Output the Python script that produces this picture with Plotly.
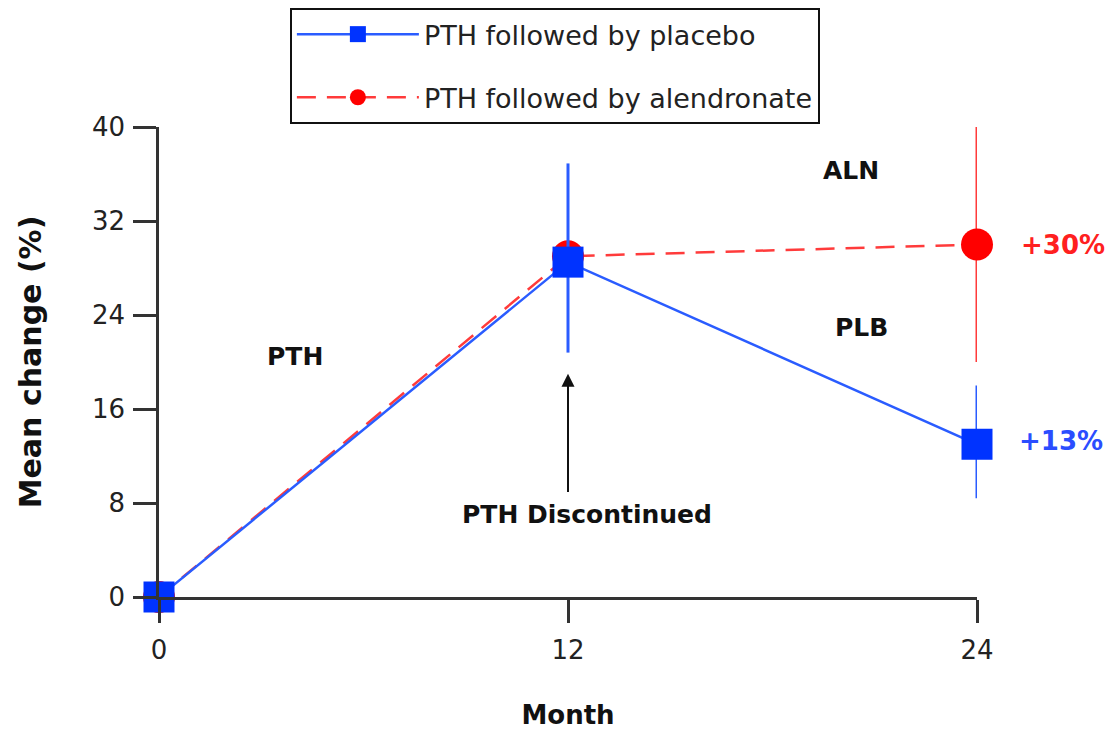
import plotly.graph_objects as go

# Months of follow-up
months = [0, 12, 24]

# PTH followed by placebo: mean % change and error bar extents
placebo_mean = [0, 28.5, 13]
placebo_err_plus = [0, 8.4, 5.0]
placebo_err_minus = [0, 7.7, 4.6]

# PTH followed by alendronate: mean % change and error bar extents
aln_mean = [0, 29.0, 30]
aln_err_plus = [0, 0, 10]
aln_err_minus = [0, 0, 10]

y_ticks = [0, 8, 16, 24, 32, 40]
x_ticks = [0, 12, 24]

FONT = "DejaVu Sans"
BLUE = "#0033ff"
BLUE_LINE = "#2a5cff"
RED = "#ff0000"
RED_LINE = "#ff3b3b"

fig = go.Figure()

fig.add_trace(go.Scatter(
    x=months, y=aln_mean, name="PTH followed by alendronate",
    mode="lines+markers", legendgroup="aln", legendrank=2,
    line=dict(color=RED_LINE, width=2.5, dash="19px,11px"),
    marker=dict(symbol="circle", size=32, color=RED),
    error_y=dict(type="data", symmetric=False, array=aln_err_plus,
                 arrayminus=aln_err_minus, color=RED_LINE,
                 thickness=3, width=0),
    cliponaxis=False,
))

# Placebo drawn on top of the alendronate curve
fig.add_trace(go.Scatter(
    x=months, y=placebo_mean, name="PTH followed by placebo",
    mode="lines+markers", legendgroup="plb", legendrank=1,
    line=dict(color=BLUE_LINE, width=2.5),
    marker=dict(symbol="square", size=31, color=BLUE),
    error_y=dict(type="data", symmetric=False, array=placebo_err_plus,
                 arrayminus=placebo_err_minus, color=BLUE_LINE,
                 thickness=3, width=0),
    cliponaxis=False,
))

bold = dict(family=FONT, size=25, color="#111111", weight="bold")

annotations = [
    dict(x=4.0, y=20.5, text="PTH", showarrow=False, font=bold),
    dict(x=20.3, y=36.3, text="ALN", showarrow=False, font=bold),
    dict(x=20.6, y=22.9, text="PLB", showarrow=False, font=bold),
    dict(x=12.55, y=7.05, text="PTH Discontinued", showarrow=False, font=bold),
    # arrow marking the end of PTH treatment
    dict(x=12, y=19.0, ax=12, ay=8.8, axref="x", ayref="y", text="",
         showarrow=True, arrowhead=2, arrowsize=1.3, arrowwidth=2,
         arrowcolor="#111111"),
    dict(x=24, y=aln_mean[2], text="+30%", showarrow=False, xanchor="left",
         xshift=42, font=dict(family=FONT, size=26, color="#ff2020", weight="bold")),
    dict(x=24, y=placebo_mean[2], text="+13%", showarrow=False, xanchor="left",
         xshift=40, yshift=3,
         font=dict(family=FONT, size=26, color="#2b4dff", weight="bold")),
]

fig.update_layout(
    width=1113, height=730,
    margin=dict(l=159, r=136, t=127, b=133, autoexpand=False),
    paper_bgcolor="white", plot_bgcolor="white",
    font=dict(family=FONT, size=26, color="#222222"),
    showlegend=True,
    legend=dict(
        x=0.16, y=1.253, xanchor="left", yanchor="top",
        bgcolor="white", bordercolor="#111111", borderwidth=2,
        font=dict(family=FONT, size=27, color="#222222"),
        traceorder="grouped", tracegroupgap=25, itemwidth=122,
    ),
    annotations=annotations,
    xaxis=dict(
        range=[0, 24], tickvals=x_ticks, ticktext=[str(v) for v in x_ticks],
        automargin=False,
        showgrid=False, zeroline=False, showline=True, linecolor="#333333",
        linewidth=2.5, ticks="outside", ticklen=23, tickwidth=2.5,
        tickcolor="#333333", tickfont=dict(size=26), ticklabelstandoff=5,
        title=dict(text="Month", font=dict(size=26, weight="bold", color="#111111"),
                   standoff=43),
    ),
    yaxis=dict(
        range=[0, 40], tickvals=y_ticks, ticktext=[str(v) for v in y_ticks],
        automargin=False,
        showgrid=False, zeroline=False, showline=True, linecolor="#333333",
        linewidth=2.5, ticks="outside", ticklen=23, tickwidth=2.5,
        tickcolor="#333333", tickfont=dict(size=26), ticklabelstandoff=3,
        title=dict(text="Mean change (%)",
                   font=dict(size=30, weight="bold", color="#111111"),
                   standoff=42),
    ),
)

fig.write_html("out.html")
